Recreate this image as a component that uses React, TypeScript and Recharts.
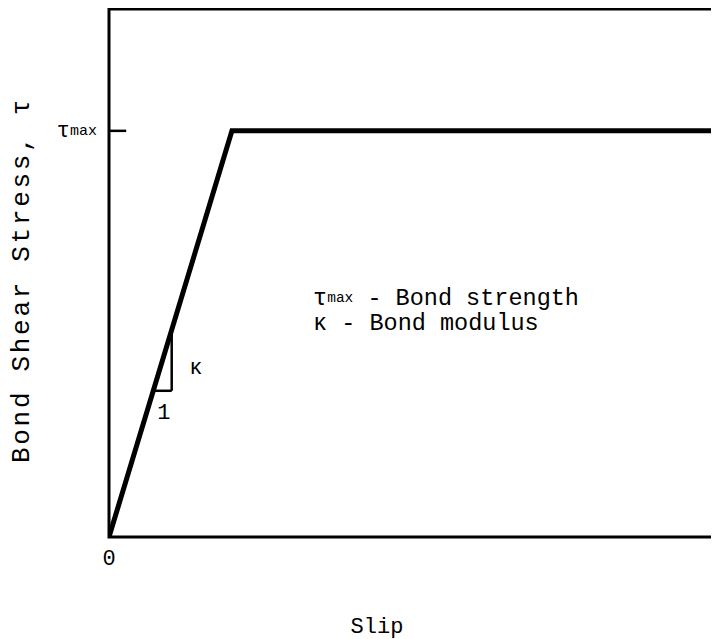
import React from "react";
import {
  ComposedChart,
  Line,
  XAxis,
  YAxis,
  ReferenceLine,
  ReferenceArea,
  ReferenceDot,
  Label,
} from "recharts";

// Bond-slip law: linear rise to the bond strength, then a plateau.
const slipValues = [0, 1, 5.1];
const stressValues = [0, 1, 1];

const xDomain = [0, 5.1];
const yDomain = [0, 1.3];
const xTicks = [0];
const tauMaxValue = 1;
const yTicks = [tauMaxValue];

// Slope triangle showing the bond modulus (rise over run of 1).
const triangleX = [0.36, 0.51];
const triangleY = [0.36, 0.51];

// Inward tick marking the bond strength on the stress axis.
const tauTickEnd = 0.14;

const data = slipValues.map((s, i) => ({ slip: s, stress: stressValues[i] }));

const FONT = "'Liberation Mono', 'Courier New', monospace";
const FS = 22;
const LEGEND_FS = 23.5;
const SUB = 15;
const LEGEND_SUB = 14.5;

const YTick = (props: any) => {
  const { x, y } = props;
  return (
    <text x={x - 12} y={y} dominantBaseline="central" textAnchor="end" fontFamily={FONT} fill="#000">
      <tspan fontSize={FS}>τ</tspan>
      <tspan fontSize={SUB}>max</tspan>
    </text>
  );
};

const XTick = (props: any) => {
  const { x, y, payload } = props;
  return (
    <text x={x} y={y + 28} textAnchor="middle" fontFamily={FONT} fontSize={FS} fill="#000">
      {payload.value}
    </text>
  );
};

const textLabel = (content: React.ReactNode) => (props: any) => {
  const vb = props.viewBox || {};
  return (
    <text x={vb.x} y={vb.y} dominantBaseline="central" fontFamily={FONT} fontSize={LEGEND_FS} fill="#000">
      {content}
    </text>
  );
};

const centeredLabel = (content: React.ReactNode) => (props: any) => {
  const vb = props.viewBox || {};
  return (
    <text x={vb.x} y={vb.y} dominantBaseline="central" textAnchor="middle" fontFamily={FONT} fontSize={FS} fill="#000">
      {content}
    </text>
  );
};

const YAxisTitle = (props: any) => {
  const vb = props.viewBox || {};
  const cx = 14;
  const cy = vb.y + vb.height / 2 + 7;
  return (
    <text
      x={cx}
      y={cy}
      transform={`rotate(-90, ${cx}, ${cy})`}
      textAnchor="middle"
      dominantBaseline="central"
      fontFamily={FONT}
      fontSize={26}
      letterSpacing={2.7}
      fill="#000"
    >
      Bond Shear Stress, τ
    </text>
  );
};

const XAxisTitle = (props: any) => {
  const vb = props.viewBox || {};
  return (
    <text x={369} y={vb.y + 96} textAnchor="middle" fontFamily={FONT} fontSize={FS} fill="#000">
      Slip
    </text>
  );
};

export default function App() {
  return (
    <div style={{ width: 760, height: 631, overflow: "hidden", background: "#fff" }}>
      <style>{`html, body { overflow: hidden; background: #fff; }`}</style>
      <ComposedChart
        width={760}
        height={631}
        data={data}
        margin={{ top: 1, right: 32, bottom: 0, left: 0 }}
      >
        <XAxis
          dataKey="slip"
          type="number"
          domain={xDomain}
          ticks={xTicks}
          axisLine={false}
          tickLine={false}
          tickSize={0}
          tickMargin={0}
          height={102}
          tick={<XTick />}
          allowDataOverflow
        >
          <Label content={<XAxisTitle />} />
        </XAxis>
        <YAxis
          type="number"
          domain={yDomain}
          ticks={yTicks}
          axisLine={false}
          tickLine={false}
          tickSize={0}
          tickMargin={0}
          width={101}
          tick={<YTick />}
          allowDataOverflow
        >
          <Label content={<YAxisTitle />} />
        </YAxis>
        <ReferenceArea
          x1={xDomain[0]}
          x2={xDomain[1]}
          y1={yDomain[0]}
          y2={yDomain[1]}
          fill="none"
          fillOpacity={0}
          stroke="#000"
          strokeWidth={3}
          ifOverflow="visible"
        />
        <ReferenceLine
          segment={[
            { x: 0, y: tauMaxValue },
            { x: tauTickEnd, y: tauMaxValue },
          ]}
          stroke="#000"
          strokeWidth={2.5}
        />
        <ReferenceLine
          segment={[
            { x: triangleX[1], y: triangleY[1] },
            { x: triangleX[1], y: triangleY[0] },
          ]}
          stroke="#000"
          strokeWidth={2.5}
        />
        <ReferenceLine
          segment={[
            { x: triangleX[0], y: triangleY[0] },
            { x: triangleX[1], y: triangleY[0] },
          ]}
          stroke="#000"
          strokeWidth={2.5}
        />
        <Line
          type="linear"
          dataKey="stress"
          stroke="#000"
          strokeWidth={5}
          dot={false}
          activeDot={false}
          isAnimationActive={false}
        />
        <ReferenceDot x={0.707} y={0.414} r={0} stroke="none" fill="none" label={centeredLabel("κ")} />
        <ReferenceDot x={0.447} y={0.305} r={0} stroke="none" fill="none" label={centeredLabel("1")} />
        <ReferenceDot
          x={1.66}
          y={0.589}
          r={0}
          stroke="none"
          fill="none"
          label={textLabel(
            <>
              <tspan fontSize={LEGEND_FS}>τ</tspan>
              <tspan fontSize={LEGEND_SUB}>max</tspan>
              <tspan fontSize={LEGEND_FS}> - Bond strength</tspan>
            </>
          )}
        />
        <ReferenceDot
          x={1.66}
          y={0.525}
          r={0}
          stroke="none"
          fill="none"
          label={textLabel("κ - Bond modulus")}
        />
      </ComposedChart>
    </div>
  );
}
